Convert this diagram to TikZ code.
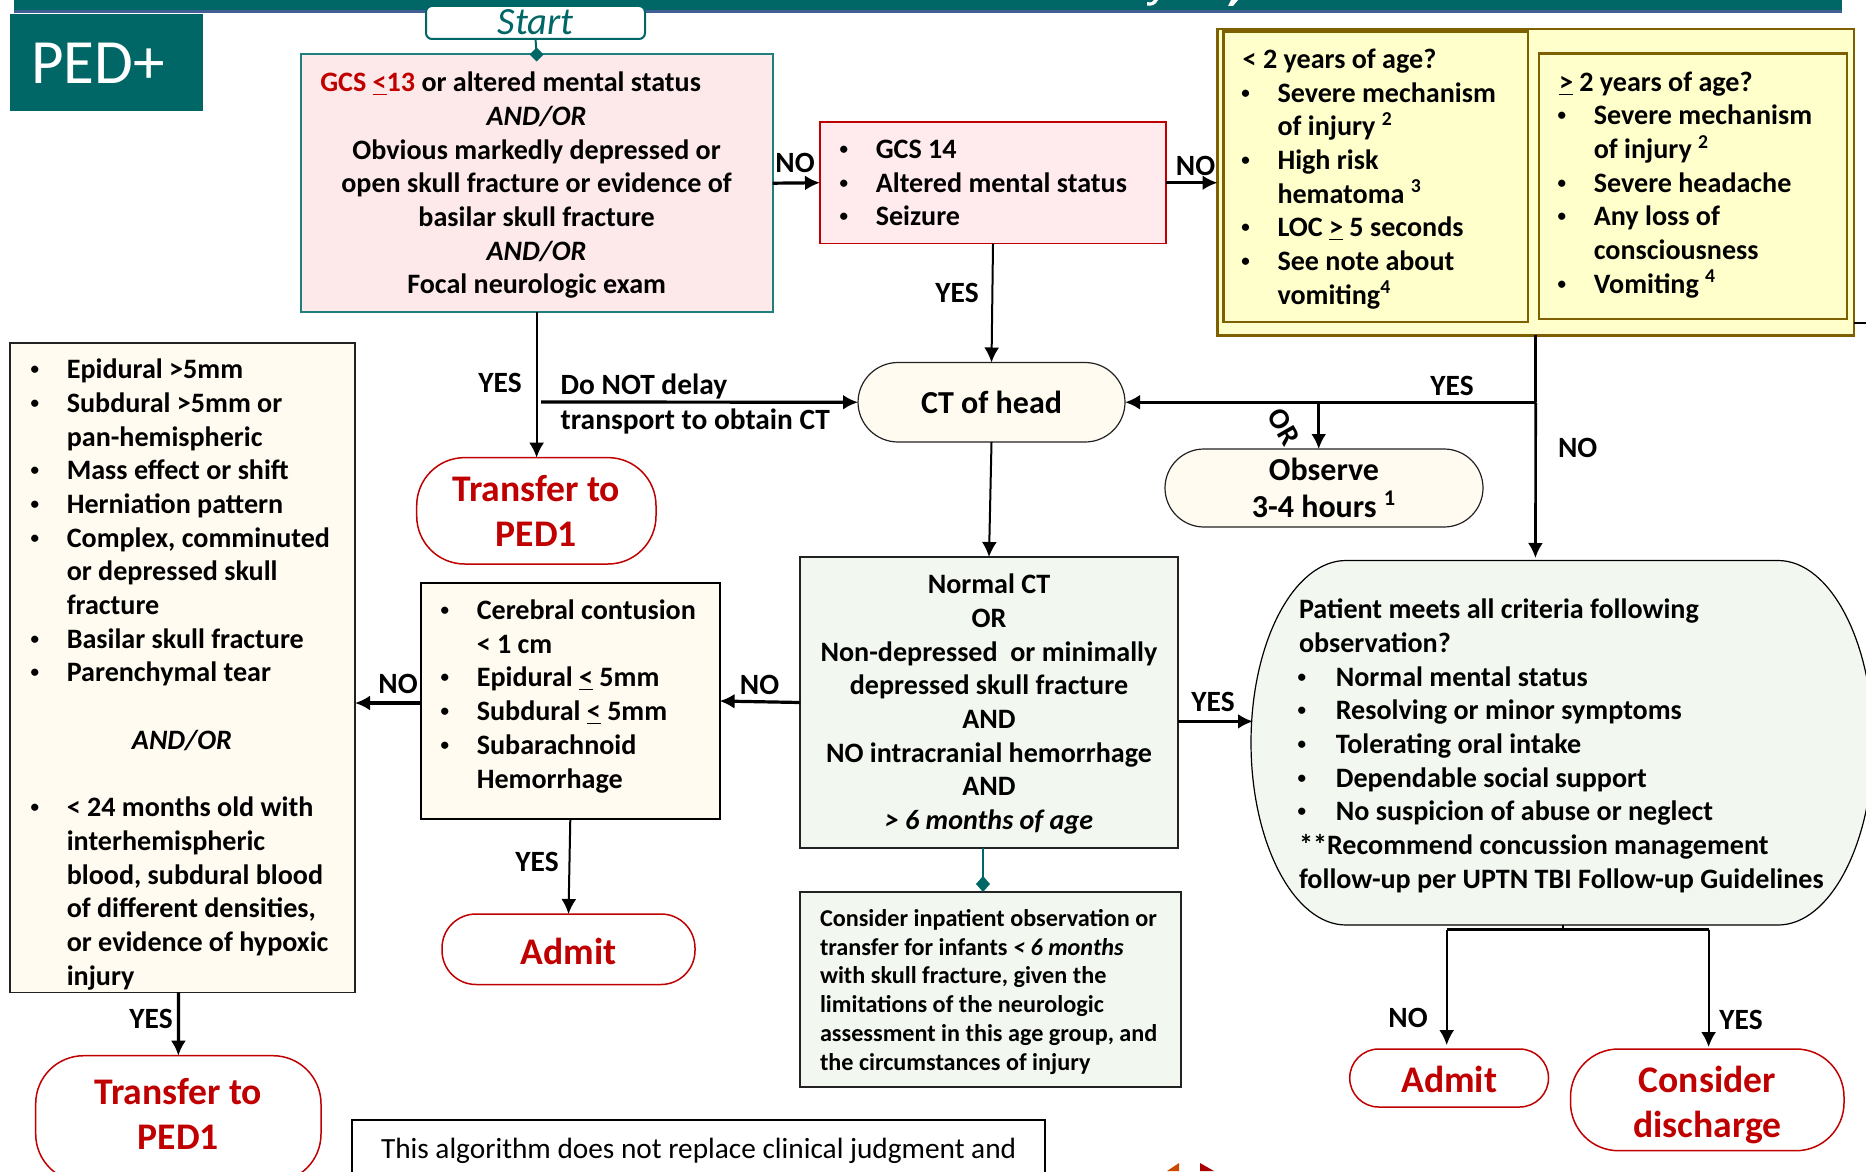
\documentclass[tikz,border=0pt]{standalone}
\usepackage{fontspec}
\setmainfont{Carlito}
\usetikzlibrary{arrows.meta}
\definecolor{teal1}{HTML}{006666}
\definecolor{tealb}{HTML}{1F7F7F}
\definecolor{barb}{HTML}{3F5F95}
\definecolor{redt}{HTML}{C00000}
\definecolor{pinkf}{HTML}{FDE9E9}
\definecolor{pinkg}{HTML}{FFEBEE}
\definecolor{cream}{HTML}{FFFBF0}
\definecolor{yel}{HTML}{FFFFCC}
\definecolor{gold}{HTML}{7F6000}
\definecolor{gren}{HTML}{F2F7F0}
\definecolor{edge}{HTML}{222222}
\newcommand\bdot{\raisebox{2pt}{\fontsize{8.5}{8.5}\selectfont•}}
\newcommand\bul{\makebox[17.4pt][l]{\hspace{-0.7pt}\bdot}}
\newcommand\hng{\hspace*{17.4pt}}
\newcommand\bulp{\makebox[18.4pt][l]{\hspace{-0.7pt}\bdot}}
\newcommand\ule[1]{\underline{#1}}
\newcommand\bbox[6][]{\node[#1,minimum width={(#5-#3)*0.5pt},minimum height={(#6-#4)*0.5pt}] (#2) at ({(#3+#5)/2},{(#4+#6)/2}) {};}
\newcommand\tbox[7][]{\node[#1,minimum width={(#5-#3)*0.5pt},minimum height={(#6-#4)*0.5pt}] (#2) at ({(#3+#5)/2},{(#4+#6)/2}) {#7};}
\tikzset{
  shp/.style={rectangle,inner sep=0pt,outer sep=0pt,align=center},
  bodyfont/.style={font=\bfseries\fontsize{14.05}{16.85}\selectfont},
  body/.style={bodyfont,inner sep=0pt,outer sep=0pt,align=left,anchor=west,text=black},
  lbl/.style={font=\bfseries\fontsize{14.7}{16.85}\selectfont,inner sep=0pt,outer sep=0pt,text=black},
  redbig/.style={shp,draw=redt,line width=0.75pt,fill=white,text=redt,font=\bfseries\fontsize{18.8}{22.5}\selectfont},
  capsule/.style={shp,draw=edge,line width=0.6pt,fill=cream,font=\bfseries\fontsize{16}{18.5}\selectfont},
  ln/.style={line width=1pt,draw=black,-{Latex[length=7.5pt,width=7.5pt]}},
  lnm/.style={line width=1.3pt,draw=black,-{Latex[length=7.5pt,width=7.5pt]}},
  lnt/.style={line width=1.6pt,draw=black,-{Latex[length=7.5pt,width=7.5pt]}},
  plain/.style={line width=1.3pt,draw=black},
}
\begin{document}
\begin{tikzpicture}[x=0.5pt,y=-0.5pt]
\useasboundingbox (0,0) rectangle (1866,1171);
\clip (0,0) rectangle (1866,1171);
% header bar
\fill[barb] (14,0) rectangle (1842,13);
\fill[teal1] (14,0) rectangle (1842,10);
\fill[white] (1147,2) .. controls (1151,3) and (1153,2) .. (1154,0) -- (1158,0) .. controls (1156,5) and (1151,6.5) .. (1147,5.5) -- cycle;
\fill[white] (1231,0) -- (1238,0) -- (1233,6) -- (1228,6) -- cycle;
% PED+ tag
\node[shp,fill=teal1,minimum width=96.5pt,minimum height=48.5pt] (tag) at (106.5,62.5) {};
\node[text=white,font=\fontsize{31.5}{36}\selectfont,inner sep=0pt] (tagT) at (98,63) {PED+};
% start
\tbox[shp,draw=teal1,line width=1pt,fill=white,rounded corners=3pt,text=teal1,font=\itshape\fontsize{19.3}{22}\selectfont]{start}{426}{6}{645}{39}{Start}
% red box 1
\tbox[shp,draw=tealb,line width=1pt,fill=pinkf,bodyfont]{red1}{300.6}{54.4}{772.6}{312}{%
\rule{0pt}{12pt}\textcolor{redt}{GCS \ule{<}13} or altered mental status\hspace*{26pt}\\
\textit{AND/OR}\\
Obvious markedly depressed or\\
open skull fracture or evidence of\\
basilar skull fracture\\
\textit{AND/OR}\\
Focal neurologic exam}
% red box 2
\bbox[shp,draw=redt,line width=0.8pt,fill=pinkg]{red2}{820}{122}{1166}{243.5}
\node[body] (red2T) at (841,183) {\bul GCS 14\\\bul Altered mental status\\\bul Seizure};
% yellow
\bbox[shp,draw=gold,line width=1.4pt,fill=yel]{yellow}{1217.5}{29}{1854}{335.5}
\bbox[shp,draw=gold,line width=1.1pt,fill=yel]{yell}{1223.5}{31.5}{1527.6}{322}
\bbox[shp,draw=gold,line width=1.1pt,fill=yel]{yelr}{1539}{53.6}{1846.7}{319}
\node[body] (yellT) at (1242.7,178.9) {< 2 years of age?\\
\bul Severe mechanism\\
\hng of injury \textsuperscript{2}\\
\bul High risk\\
\hng hematoma \textsuperscript{3}\\
\bul LOC \ule{>} 5 seconds\\
\bul See note about\\
\hng vomiting\textsuperscript{4}};
\node[body] (yelrT) at (1559,184.9) {\ule{>} 2 years of age?\\
\bul Severe mechanism\\
\hng of injury \textsuperscript{2}\\
\bul Severe headache\\
\bul Any loss of\\
\hng consciousness\\
\bul Vomiting \textsuperscript{4}};
% capsules
\tbox[capsule,rounded corners=20pt]{ct}{858}{362.5}{1125}{442}{CT of head}
\tbox[capsule,rounded corners=19.5pt]{observe}{1165}{449}{1483}{527}{Observe\\3-4 hours \textsuperscript{1}}
\tbox[redbig,rounded corners=24pt]{tr1}{416.7}{457.6}{656}{564}{Transfer to\\PED1}
\tbox[redbig,rounded corners=24pt]{tr2}{35.7}{1055.7}{321}{1182}{Transfer to\\PED1\rule[-5pt]{0pt}{1pt}}
\tbox[redbig,rounded corners=17pt]{admit1}{442}{914}{695}{984.5}{\rule{0pt}{15.5pt}Admit}
\tbox[redbig,rounded corners=14.5pt]{admit2}{1349.7}{1049}{1548.5}{1107}{\rule{0pt}{14.5pt}Admit}
\tbox[redbig,rounded corners=24pt]{consider}{1570.5}{1049}{1844}{1150.7}{\rule{0pt}{18pt}Consider\\discharge}
% big left box
\bbox[shp,draw=edge,line width=0.8pt,fill=cream]{big}{10}{343}{355}{992.4}
\node[body] (bigT) at (32,674.5) {\bul Epidural >5mm\\
\bul Subdural >5mm or\\
\hng pan-hemispheric\\
\bul Mass effect or shift\\
\bul Herniation pattern\\
\bul Complex, comminuted\\
\hng or depressed skull\\
\hng fracture\\
\bul Basilar skull fracture\\
\bul Parenchymal tear\\
\\
\hspace*{50pt}\textit{AND/OR}\\
\\
\bul < 24 months old with\\
\hng interhemispheric\\
\hng blood, subdural blood\\
\hng of different densities,\\
\hng or evidence of hypoxic\\
\hng injury};
% middle box
\bbox[shp,draw=black,line width=1.1pt,fill=cream]{mid}{421}{582.6}{719.6}{819}
\node[body] (midT) at (442,696.3) {\bul Cerebral contusion\\
\hng < 1 cm\\
\bul Epidural \ule{<} 5mm\\
\bul Subdural \ule{<} 5mm\\
\bul Subarachnoid\\
\hng Hemorrhage};
% green box
\tbox[shp,draw=edge,line width=1pt,fill=gren,bodyfont]{green}{800}{557}{1178}{848.4}{%
\rule{0pt}{11.4pt}Normal CT\\OR\\Non-depressed\ \ or minimally\\depressed skull fracture\\AND\\NO intracranial hemorrhage\\AND\\\textit{> 6 months of age}}
% note box
\bbox[shp,draw=edge,line width=1pt,fill=gren]{note}{800}{892}{1180.6}{1086.6}
\node[body,font=\bfseries\fontsize{12.1}{14.4}\selectfont] (noteT) at (820,991.9) {Consider inpatient observation or\\
transfer for infants \textit{< 6 months}\\
with skull fracture, given the\\
limitations of the neurologic\\
assessment in this age group, and\\
the circumstances of injury};
% algorithm box
\bbox[shp,draw=black,line width=1pt,fill=white]{algo}{352}{1120}{1045}{1200}
\node[body,font=\fontsize{14.66}{16.85}\selectfont] (algoT) at (381,1151) {This algorithm does not replace clinical judgment and};
% patient shape
\draw[draw=black,line width=0.6pt,fill=gren] (1346,560.5) -- (1778,560.5)
  .. controls (1830,560.5) and (1873,642) .. (1873,742.5)
  .. controls (1873,843) and (1830,925) .. (1778,925)
  -- (1346,925)
  .. controls (1294,925) and (1251,843) .. (1251,742.5)
  .. controls (1251,642) and (1294,560.5) .. (1346,560.5) -- cycle;
\node[body] (patT) at (1299,745.8) {Patient meets all criteria following\\
observation?\\
\bulp Normal mental status\\
\bulp Resolving or minor symptoms\\
\bulp Tolerating oral intake\\
\bulp Dependable social support\\
\bulp No suspicion of abuse or neglect\\
**Recommend concussion management\\
follow-up per UPTN TBI Follow-up Guidelines};
\coordinate (patW) at (1253,721.4);
\coordinate (patN) at (1535.4,558);
\coordinate (patS) at (1562.8,925);
% triangles
\fill[fill=orange!70!red!80!black] (1179,1163) -- (1179,1171) -- (1167,1171) -- cycle;
\fill[fill=red!65!black] (1200,1163) -- (1200,1171) -- (1214,1171) -- cycle;
% connectors
\draw[teal1,line width=1pt] (start.south) -- (red1.north);
\fill[teal1] (red1.north) ++(0,-7) -- ++(7,7) -- ++(-7,7) -- ++(-7,-7) -- cycle;
\draw[lnt] (red1.east) -- (red2.west);
\draw[lnt] (red2.east) -- (red2.east -| yellow.west);
\coordinate (r2s) at (993,243.5);
\draw[ln] (r2s) -- (ct.north);
\draw[ln] (red1.south) -- (red1.south |- tr1.north);
\coordinate (delay) at (541,402);
\draw[lnt] (delay) -- (ct.west);
\coordinate (jy) at (yellow.south |- ct.east);
\draw[plain] (yellow.south) -- (jy);
\draw[lnm] (jy) -- (patN);
\draw[lnt] (jy) -- (ct.east);
\coordinate (jo) at (1318.7,402);
\draw[lnm] (jo) -- (jo |- observe.north);
\coordinate (yr) at (1854,323);
\coordinate (yr2) at (1866,323);
\draw[plain] (yr) -- (yr2);
\draw[ln] (ct.south) -- (green.north);
\coordinate (gy) at (1178,721.4);
\draw[lnt] (gy) -- (patW);
\coordinate (gn) at (800,702.5);
\coordinate (mn) at (719.6,701);
\draw[lnt] (gn) -- (mn);
\coordinate (mw) at (421,703);
\coordinate (be) at (355,703);
\draw[lnt] (mw) -- (be);
\draw[ln] (mid.south) -- (admit1.north);
\coordinate (bs) at (178.6,992.4);
\draw[lnt] (bs) -- (tr2.north);
\coordinate (ts) at (983,848.4);
\draw[teal1,line width=1pt] (ts) -- (983,884);
\fill[teal1] (983,876) -- (990,884) -- (983,892) -- (976,884) -- cycle;
\coordinate (bj) at (1562.8,929.5);
\coordinate (bl) at (1446.7,929.5);
\coordinate (br) at (1708.6,929.5);
\draw[plain] (patS) -- (bj);
\draw[line width=1.3pt] (bl) -- (br);
\coordinate (ble) at (1446.7,1045);
\coordinate (bre) at (1708.6,1047);
\draw[ln] (bl) -- (ble);
\draw[ln] (br) -- (bre);
% labels
\node[lbl] (l1) at (795,163) {NO};
\node[lbl] (l2) at (1195.5,165.6) {NO};
\node[lbl] (l3) at (957,293) {YES};
\node[lbl] (l4) at (500,383) {YES};
\node[lbl,anchor=west] (l5) at (560.7,386.4) {Do NOT delay};
\node[lbl,anchor=west] (l6) at (560.7,421.9) {transport to obtain CT};
\node[lbl] (l7) at (1452,386) {YES};
\node[lbl,rotate=-60] (l8) at (1284,427) {OR};
\node[lbl] (l9) at (1577.6,448) {NO};
\node[lbl] (l10) at (1213,701.7) {YES};
\node[lbl] (l11) at (759.5,685) {NO};
\node[lbl] (l12) at (398,684) {NO};
\node[lbl] (l13) at (537,862) {YES};
\node[lbl] (l14) at (151,1019) {YES};
\node[lbl] (l15) at (1408,1018) {NO};
\node[lbl] (l16) at (1741,1020) {YES};
\end{tikzpicture}
\end{document}
